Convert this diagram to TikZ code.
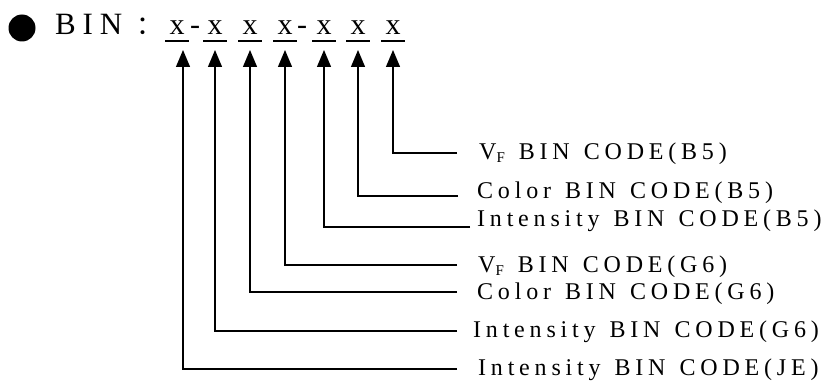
\documentclass[tikz,border=0pt]{standalone}
\usepackage{fontspec}
\setmainfont{Liberation Serif}
\newfontfamily\cjk{Noto Sans CJK SC}
\newfontfamily\hdfont{Liberation Serif}[LetterSpace=22]
\newfontfamily\lblfont{Liberation Serif}[LetterSpace=20,WordSpace=1.3]
\usetikzlibrary{positioning,arrows.meta}

\begin{document}
\begin{tikzpicture}[x=1pt,y=-1pt,
    pin/.style={-{Triangle[width=14pt,length=17pt]},line width=1.3pt},
    uline/.style={line width=2pt},
    code/.style={anchor=base,inner xsep=4pt,inner ysep=0pt,font=\fontsize{30}{30}\selectfont},
    bin/.style={anchor=base west,inner sep=0pt,font=\lblfont\fontsize{24}{28}\selectfont}]
  \useasboundingbox (0,0) rectangle (826,385);

  % Heading
  \node[circle,fill,inner sep=0pt,minimum size=27pt] (dot) at (22,28) {};
  \node[code,anchor=base west,inner sep=0pt,font=\hdfont\fontsize{31}{31}\selectfont] (bin) at (55,35) {BIN};
  \node[code,font=\cjk\fontsize{26}{26}\selectfont] (colon) at (149,35) {：};

  % Code digits
  \node[code] (x1) at (177,35) {x};
  \node[code,inner xsep=0pt] (h1) at (195,35) {-};
  \node[code] (x2) at (215,35) {x};
  \node[code] (x3) at (250,35) {x};
  \node[code] (x4) at (285,35) {x};
  \node[code,inner xsep=0pt] (h2) at (302,35) {-};
  \node[code] (x5) at (324,35) {x};
  \node[code] (x6) at (358,35) {x};
  \node[code] (x7) at (393,35) {x};

  % Underlines
  \draw[uline] ([yshift=-6pt]x1.base west) -- ([yshift=-6pt]x1.base east);
  \draw[uline] ([yshift=-6pt]x2.base west) -- ([yshift=-6pt]x2.base east);
  \draw[uline] ([yshift=-6pt]x3.base west) -- ([yshift=-6pt]x3.base east);
  \draw[uline] ([yshift=-6pt]x4.base west) -- ([yshift=-6pt]x4.base east);
  \draw[uline] ([yshift=-6pt]x5.base west) -- ([yshift=-6pt]x5.base east);
  \draw[uline] ([yshift=-6pt]x6.base west) -- ([yshift=-6pt]x6.base east);
  \draw[uline] ([yshift=-6pt]x7.base west) -- ([yshift=-6pt]x7.base east);

  % Labels
  \node[bin] (l1) at (479,159) {V\raisebox{-3pt}{\fontsize{15}{15}\selectfont F} BIN CODE(B5)};
  \node[bin] (l2) at (477,198) {Color BIN CODE(B5)};
  \node[bin] (l3) at (477,226) {Intensity BIN CODE(B5)};
  \node[bin] (l4) at (478,272) {V\raisebox{-3pt}{\fontsize{15}{15}\selectfont F} BIN CODE(G6)};
  \node[bin] (l5) at (477,299) {Color BIN CODE(G6)};
  \node[bin] (l6) at (473,337) {Intensity BIN CODE(G6)};
  \node[bin] (l7) at (478,375) {Intensity BIN CODE(JE)};

  % Pointers
  \draw[pin] ([xshift=-22pt,yshift=6pt]l1.base west) -| ([yshift=-15pt]x7.base);
  \draw[pin] ([xshift=-19pt,yshift=2pt]l2.base west) -| ([yshift=-15pt]x6.base);
  \draw[pin] ([xshift=-7pt,yshift=-1pt]l3.base west) -| ([yshift=-15pt]x5.base);
  \draw[pin] ([xshift=-21pt,yshift=7pt]l4.base west) -| ([yshift=-15pt]x4.base);
  \draw[pin] ([xshift=-20pt,yshift=7pt]l5.base west) -| ([yshift=-15pt]x3.base);
  \draw[pin] ([xshift=-16pt,yshift=6pt]l6.base west) -| ([yshift=-15pt]x2.base);
  \draw[pin] ([xshift=-21pt,yshift=6pt]l7.base west) -| ([xshift=6pt,yshift=-15pt]x1.base);

\end{tikzpicture}
\end{document}
